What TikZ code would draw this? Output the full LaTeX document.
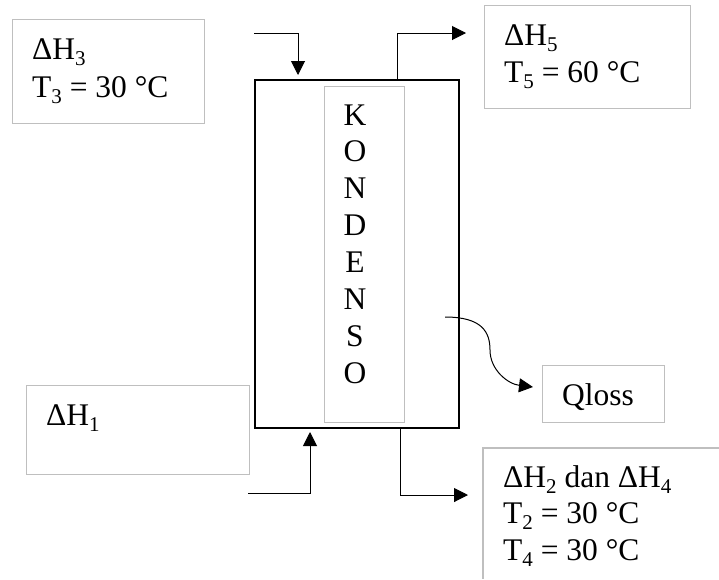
\documentclass[tikz,border=0pt]{standalone}
\usepackage{fontspec}
\setmainfont{Liberation Serif}
\usetikzlibrary{arrows.meta}
\newcommand{\lsub}[1]{\raisebox{-0.2em}{\fontsize{21}{21}\selectfont #1}}
\begin{document}
\begin{tikzpicture}[x=1pt,y=-1pt,
  graybox/.style={draw=black!25, line width=1.2pt, inner sep=0pt, anchor=north west},
  mainbox/.style={draw=black, line width=2.2pt, inner sep=0pt, anchor=north west},
  lbl/.style={inner sep=0pt, anchor=base west, font=\fontsize{31.5}{37}\selectfont},
  letter/.style={inner sep=0pt, anchor=base, font=\fontsize{31.5}{37}\selectfont},
  flow/.style={line width=1pt, -{Triangle[length=14pt,width=14pt]}}]
\useasboundingbox (0,0) rectangle (719,579);
% boxes
\node[graybox, minimum width=192pt, minimum height=104pt] (b3) at (12,19) {};
\node[graybox, minimum width=206pt, minimum height=103pt] (b5) at (484,5) {};
\node[graybox, minimum width=223pt, minimum height=89pt] (b1) at (26,385) {};
\node[graybox, minimum width=122pt, minimum height=57pt] (bq) at (542,365) {};
\draw[draw=black!25, line width=1.2pt] (719,448) -- (483,448) -- (483,579);
\coordinate (b24) at (483,448);
\node[mainbox, minimum width=204pt, minimum height=348pt] (main) at (254,79) {};
\node[graybox, minimum width=80pt, minimum height=336pt] (inner) at (324,86) {};
% letters
\foreach \l [count=\i from 0] in {K,O,N,D,E,N,S,O}
  \node[letter] (L\i) at (355,{125+36.9*\i}) {\l};
% labels
\node[lbl] (t3a) at (32,59) {ΔH\lsub{3}};
\node[lbl] (t3b) at (32,97) {T\lsub{3} = 30 °C};
\node[lbl] (t5a) at (504,45) {ΔH\lsub{5}};
\node[lbl] (t5b) at (504,82) {T\lsub{5} = 60 °C};
\node[lbl] (t1) at (46,425) {ΔH\lsub{1}};
\node[lbl] (tq) at (562,405) {Qloss};
\node[lbl] (t24a) at (503,487) {ΔH\lsub{2} dan ΔH\lsub{4}};
\node[lbl] (t24b) at (503,523) {T\lsub{2} = 30 °C};
\node[lbl] (t24c) at (503,560) {T\lsub{4} = 30 °C};
% connectors
\coordinate (in3s) at (254,33);
\coordinate (in3e) at (298,75);
\draw[flow] (in3s) -| (in3e);
\coordinate (out5s) at (397,79);
\coordinate (out5e) at (466,33);
\draw[flow] (out5s) |- (out5e);
\coordinate (in1s) at (248,493);
\coordinate (in1e) at (310,432);
\draw[flow] (in1s) -| (in1e);
\coordinate (out2s) at (400,427);
\coordinate (out2e) at (468,495);
\draw[flow] (out2s) |- (out2e);
\coordinate (qs) at (445,317);
\coordinate (qe) at (533,387);
\draw[flow] (qs) .. controls (482,317) and (490,332) .. (490,350)
  .. controls (490,370) and (508,384) .. (qe);
\end{tikzpicture}
\end{document}
